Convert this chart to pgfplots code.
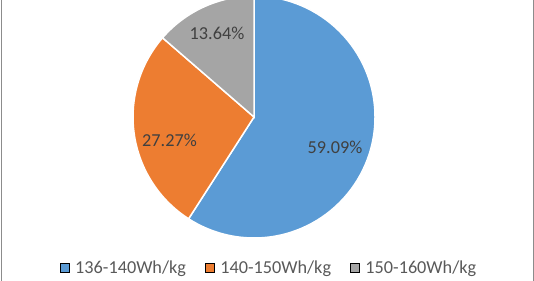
\documentclass[border=0pt]{standalone}
\usepackage{pgfplots}
\pgfplotsset{compat=1.18}
\usepackage{fontspec}
\setmainfont{Carlito}
\definecolor{cblue}{HTML}{5B9BD5}
\definecolor{corange}{HTML}{ED7D31}
\definecolor{cgray}{HTML}{A5A5A5}
\definecolor{ctext}{HTML}{404040}
\definecolor{clegend}{HTML}{595959}
\definecolor{cframe}{HTML}{8C8C8C}
\begin{document}
\begin{tikzpicture}
\pgfmathsetmacro{\va}{59.09}
\pgfmathsetmacro{\vb}{27.27}
\pgfmathsetmacro{\vc}{13.64}
\pgfmathsetmacro{\aA}{90}
\pgfmathsetmacro{\aB}{90-3.6*\va}
\pgfmathsetmacro{\aC}{\aB-3.6*\vb}
\pgfmathsetmacro{\aD}{\aC-3.6*\vc}
\begin{axis}[
  scale only axis, width=534bp, height=281bp,
  xmin=0, xmax=534, ymin=0, ymax=281,
  hide axis, clip=true,
  legend style={at={(axis cs:269,13)}, anchor=center, draw=none, fill=none,
    legend columns=3, font=\fontsize{18.3}{21}\selectfont, text=clegend,
    /tikz/every odd column/.append style={column sep=4bp},
    /tikz/every even column/.append style={column sep=17bp}},
  legend image code/.code={\fill[#1] (0bp,-4.5bp) rectangle (9bp,4.5bp);},
]
\addlegendimage{fill=cblue}
\addlegendentry{136-140Wh/kg}
\addlegendimage{fill=corange}
\addlegendentry{140-150Wh/kg}
\addlegendimage{fill=cgray}
\addlegendentry{150-160Wh/kg}
\fill[cblue, draw=white, line width=1.5bp] (axis cs:254,164) -- ++(\aA:121bp) arc[start angle=\aA, end angle=\aB, radius=121bp] -- cycle;
\fill[corange, draw=white, line width=1.5bp] (axis cs:254,164) -- ++(\aB:121bp) arc[start angle=\aB, end angle=\aC, radius=121bp] -- cycle;
\fill[cgray, draw=white, line width=1.5bp] (axis cs:254,164) -- ++(\aC:121bp) arc[start angle=\aC, end angle=\aD, radius=121bp] -- cycle;
\node[text=ctext, font=\fontsize{18.3}{21}\selectfont] at (axis cs:335,134) {59.09\%};
\node[text=ctext, font=\fontsize{18.3}{21}\selectfont] at (axis cs:169.5,141) {27.27\%};
\node[text=ctext, font=\fontsize{18.3}{21}\selectfont] at (axis cs:217,248) {13.64\%};
\end{axis}
\draw[cframe, line width=1bp] (1bp,0) -- (1bp,281bp);
\draw[cframe, line width=1bp] (533bp,0) -- (533bp,281bp);
\pgfresetboundingbox
\path (0,0) rectangle (534bp,281bp);
\end{tikzpicture}
\end{document}
